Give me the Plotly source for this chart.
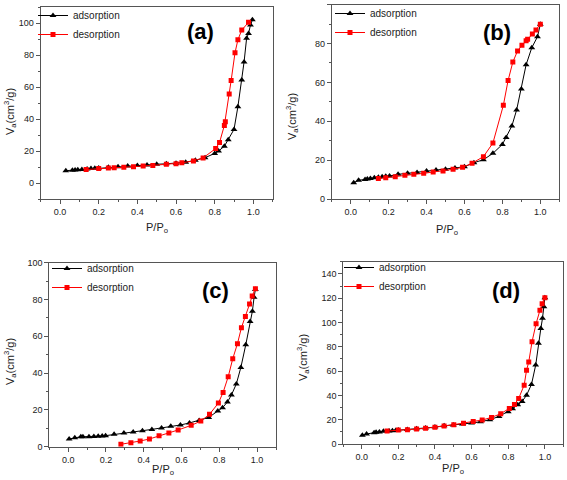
import plotly.graph_objects as go

# ---------------- data ----------------
a_ads_x = [0.03, 0.064, 0.078, 0.092, 0.113, 0.14, 0.16, 0.18, 0.2, 0.25, 0.3, 0.35, 0.4, 0.45, 0.5, 0.55, 0.6, 0.65, 0.7, 0.75, 0.8, 0.82, 0.85, 0.87, 0.9, 0.92, 0.94, 0.952, 0.965, 0.975, 0.985, 0.995]
a_ads_y = [7.7, 8.0, 8.2, 8.3, 8.5, 8.8, 9.0, 9.2, 9.4, 9.8, 10.2, 10.6, 11.0, 11.3, 11.7, 12.0, 12.4, 13.0, 14.2, 15.8, 18.5, 20.0, 23.0, 27.0, 33.5, 47.7, 64.4, 75.7, 90.4, 93.5, 98.7, 102.0]
a_des_x = [0.975, 0.94, 0.92, 0.905, 0.885, 0.875, 0.855, 0.85, 0.825, 0.805, 0.74, 0.69, 0.63, 0.6, 0.55, 0.48, 0.43, 0.38, 0.33, 0.28, 0.25, 0.2, 0.135]
a_des_y = [100.4, 95.6, 89.5, 81.4, 64.0, 55.6, 38.3, 36.0, 25.3, 21.5, 15.7, 13.8, 12.6, 12.1, 11.7, 11.0, 10.6, 10.2, 9.9, 9.6, 9.4, 9.0, 8.4]

b_ads_x = [0.016, 0.042, 0.076, 0.088, 0.104, 0.125, 0.146, 0.166, 0.185, 0.205, 0.25, 0.3, 0.35, 0.4, 0.45, 0.5, 0.55, 0.6, 0.65, 0.7, 0.75, 0.8, 0.82, 0.85, 0.875, 0.9, 0.925, 0.955, 0.985, 1.0]
b_ads_y = [8.4, 9.6, 10.1, 10.3, 10.6, 10.9, 11.2, 11.4, 11.7, 11.8, 12.7, 13.2, 13.7, 14.4, 14.9, 15.3, 16.0, 16.6, 18.7, 20.2, 23.5, 28.1, 31.7, 37.6, 45.8, 56.6, 69.1, 77.9, 83.5, 89.9]
b_des_x = [1.0, 0.977, 0.958, 0.933, 0.925, 0.903, 0.88, 0.855, 0.83, 0.805, 0.75, 0.7, 0.64, 0.59, 0.54, 0.487, 0.435, 0.385, 0.333, 0.286, 0.235, 0.185, 0.146]
b_des_y = [89.9, 87.0, 84.9, 82.2, 81.5, 79.1, 76.2, 70.5, 61.0, 48.2, 28.8, 21.8, 18.4, 16.3, 15.3, 14.4, 13.9, 13.2, 12.7, 12.2, 11.5, 11.0, 10.5]

c_ads_x = [0.005, 0.035, 0.067, 0.078, 0.11, 0.136, 0.159, 0.18, 0.198, 0.243, 0.295, 0.344, 0.393, 0.443, 0.494, 0.543, 0.594, 0.642, 0.693, 0.744, 0.792, 0.817, 0.843, 0.864, 0.89, 0.914, 0.94, 0.963, 0.975, 0.984, 0.991]
c_ads_y = [4.2, 4.9, 5.4, 5.4, 5.4, 5.6, 5.7, 5.8, 6.0, 6.7, 7.4, 8.0, 8.7, 9.4, 10.1, 11.1, 11.8, 12.9, 14.3, 15.9, 19.4, 21.2, 24.3, 28.1, 34.1, 43.1, 55.4, 68.1, 73.6, 81.2, 85.5]
c_des_x = [0.991, 0.974, 0.96, 0.938, 0.917, 0.896, 0.871, 0.847, 0.82, 0.795, 0.748, 0.702, 0.651, 0.582, 0.533, 0.481, 0.43, 0.381, 0.332, 0.279]
c_des_y = [85.9, 81.9, 77.5, 70.8, 64.7, 56.0, 47.8, 38.0, 29.5, 23.7, 17.6, 13.9, 11.6, 9.1, 7.4, 6.0, 4.2, 3.1, 2.2, 1.3]

d_ads_x = [0.004, 0.027, 0.068, 0.079, 0.097, 0.119, 0.15, 0.168, 0.186, 0.2, 0.249, 0.3, 0.349, 0.4, 0.45, 0.5, 0.55, 0.6, 0.649, 0.7, 0.75, 0.8, 0.824, 0.852, 0.876, 0.9, 0.927, 0.95, 0.965, 0.978, 0.987, 0.995, 1.0]
d_ads_y = [7.1, 8.2, 9.3, 9.6, 9.8, 10.4, 10.7, 11.0, 11.2, 11.5, 12.0, 12.6, 13.1, 13.9, 15.0, 15.6, 16.4, 17.2, 18.3, 20.0, 22.7, 26.5, 29.0, 32.3, 35.0, 40.2, 49.0, 65.0, 83.0, 95.0, 103.4, 113.0, 120.3]
d_des_x = [1.0, 0.985, 0.973, 0.952, 0.93, 0.912, 0.9, 0.887, 0.857, 0.834, 0.806, 0.759, 0.709, 0.658, 0.609, 0.556, 0.503, 0.45, 0.4, 0.349, 0.3, 0.25, 0.2, 0.139]
d_des_y = [120.3, 115.4, 110.0, 99.0, 84.2, 67.5, 60.7, 48.4, 37.5, 32.5, 29.3, 24.9, 21.9, 19.7, 18.6, 17.0, 15.9, 14.8, 13.7, 12.9, 12.3, 11.8, 11.5, 10.7]

panel_labels = ["(a)", "(b)", "(c)", "(d)"]
series_names = ["adsorption", "desorption"]
x_title = "P/P<sub>o</sub>"
y_title = "V<sub>a</sub>(cm<sup>3</sup>/g)"

# ---------------- layout ----------------
W, H = 567, 480
FONT = "Liberation Sans, Arial, sans-serif"

def px_x(p):
    return p / W

def px_y(p):
    return 1 - p / H

panels = [
    dict(data=(a_ads_x, a_ads_y, a_des_x, a_des_y), xd=(40.7, 272.7), yd=(7, 199), yr=[-10, 110], dt=20,
         leg=(33, 1), lab=(200, 32), xt=(157, 228), yt=(10, 112)),
    dict(data=(b_ads_x, b_ads_y, b_des_x, b_des_y), xd=(331.7, 559.3), yd=(4.7, 199), yr=[0, 100], dt=20,
         leg=(330, -1), lab=(497, 33), xt=(447, 230), yt=(292, 117)),
    dict(data=(c_ads_x, c_ads_y, c_des_x, c_des_y), xd=(49.3, 276), yd=(262.7, 446.7), yr=[0, 100], dt=20,
         leg=(47, 254), lab=(215, 290), xt=(163, 470), yt=(10, 362)),
    dict(data=(d_ads_x, d_ads_y, d_des_x, d_des_y), xd=(343.3, 563.2), yd=(261.7, 444), yr=[0, 150], dt=20,
         leg=(339, 253), lab=(506, 290), xt=(453, 469), yt=(303, 358)),
]

fig = go.Figure()
annotations = []
layout = dict(
    width=W, height=H, margin=dict(l=0, r=0, t=0, b=0, autoexpand=False),
    paper_bgcolor="white", plot_bgcolor="white",
    font=dict(family=FONT, size=9, color="#222"),
    showlegend=True,
)

for i, p in enumerate(panels):
    n = "" if i == 0 else str(i + 1)
    xa, ya = "x" + n, "y" + n
    legname = "legend" + n
    ax, ay, dx, dy = p["data"]
    fig.add_trace(go.Scatter(
        x=ax, y=ay, mode="lines+markers", name=series_names[0], xaxis=xa, yaxis=ya, legend=legname,
        line=dict(color="black", width=1), marker=dict(symbol="triangle-up", size=6, color="black")))
    fig.add_trace(go.Scatter(
        x=dx, y=dy, mode="lines+markers", name=series_names[1], xaxis=xa, yaxis=ya, legend=legname,
        line=dict(color="#ff0000", width=1), marker=dict(symbol="square", size=5, color="#ff0000")))

    axis_common = dict(
        showline=True, linecolor="#555", linewidth=1, mirror=True, showgrid=False, zeroline=False,
        ticks="outside", ticklen=4, tickcolor="#555", tickwidth=1,
        tickfont=dict(family=FONT, size=9, color="#222"),
    )
    layout["xaxis" + n] = dict(
        axis_common, domain=[px_x(p["xd"][0]), px_x(p["xd"][1])], anchor=ya,
        range=[-0.1, 1.1], tick0=0, dtick=0.2, tickformat=".1f",
        minor=dict(ticks="outside", ticklen=2, dtick=0.1, tick0=0, tickcolor="#555", showgrid=False),
    )
    layout["yaxis" + n] = dict(
        axis_common, domain=[px_y(p["yd"][1]), px_y(p["yd"][0])], anchor=xa,
        range=p["yr"], tick0=0, dtick=p["dt"],
        minor=dict(ticks="outside", ticklen=2, dtick=p["dt"] / 2, tick0=0, tickcolor="#555", showgrid=False),
    )
    layout[legname] = dict(
        x=px_x(p["leg"][0]), y=px_y(p["leg"][1]), xanchor="left", yanchor="top",
        bgcolor="rgba(0,0,0,0)", borderwidth=0, font=dict(family=FONT, size=10, color="#222"),
        tracegroupgap=0, itemwidth=30,
    )
    annotations.append(dict(text="<b>" + panel_labels[i] + "</b>", x=px_x(p["lab"][0]), y=px_y(p["lab"][1]),
                            xref="paper", yref="paper", xanchor="center", yanchor="middle", showarrow=False,
                            font=dict(family=FONT, size=22, color="black")))
    annotations.append(dict(text=x_title, x=px_x(p["xt"][0]), y=px_y(p["xt"][1]), xref="paper", yref="paper",
                            xanchor="center", yanchor="middle",
                            showarrow=False, font=dict(family=FONT, size=11, color="#222")))
    annotations.append(dict(text=y_title, x=px_x(p["yt"][0]), y=px_y(p["yt"][1]), xref="paper", yref="paper",
                            xanchor="center", yanchor="middle",
                            showarrow=False, textangle=-90, font=dict(family=FONT, size=11, color="#222")))

layout["annotations"] = annotations
fig.update_layout(**layout)
fig.write_html("out.html", config={"displayModeBar": False},
               post_script="document.body.style.margin='0px';")
